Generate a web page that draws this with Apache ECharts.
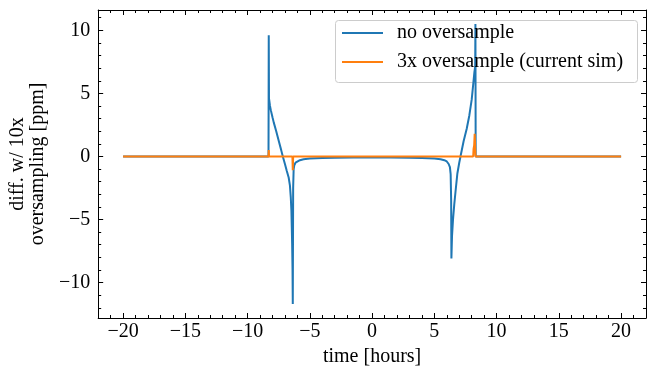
<!DOCTYPE html>
<html>
<head>
<meta charset="utf-8">
<script src="https://cdn.jsdelivr.net/npm/echarts@6/dist/echarts.min.js"></script>
<style>
  html, body { margin: 0; padding: 0; background: #fff; }
  #chart { width: 657px; height: 375px; }
</style>
</head>
<body>
<div id="chart"></div>
<script>
// axis ranges and ticks
const xRange = [-22, 22];
const yRange = [-12.81, 11.61];
const xTicks = [-20, -15, -10, -5, 0, 5, 10, 15, 20];
const yTicks = [-10, -5, 0, 5, 10];

// no oversample (blue)
const noOversampleTime = [-20, -8.32, -8.30, -8.28, -8.2, -8.13, -8.0, -7.9, -7.7, -7.5, -7.3, -7.17, -7.0, -6.85, -6.7, -6.6, -6.53, -6.48, -6.45, -6.42, -6.39, -6.37, -6.34, -6.3, -6.25, -6.15, -6.0, -5.8, -5.5, -5.0, -4.0, -3.0, -1.5, 0, 1.5, 3.0, 4.0, 5.0, 5.5, 5.8, 6.0, 6.15, 6.25, 6.31, 6.35, 6.37, 6.42, 6.5, 6.6, 6.7, 6.85, 7.0, 7.1, 7.35, 7.6, 7.81, 8.0, 8.13, 8.22, 8.28, 8.30, 8.32, 20];
const noOversampleDiff = [0, 0, 9.6, 4.6, 4.0, 3.65, 3.1, 2.7, 2.0, 1.25, 0.5, 0, -0.6, -1.15, -1.67, -2.3, -3.25, -4.3, -5.6, -7.0, -9.0, -11.7, -2.5, -1.0, -0.7, -0.5, -0.38, -0.3, -0.22, -0.17, -0.12, -0.1, -0.09, -0.08, -0.09, -0.1, -0.12, -0.17, -0.22, -0.3, -0.4, -0.6, -0.85, -1.4, -3.5, -8.1, -6.3, -5.0, -3.8, -2.8, -1.35, -0.5, 0, 1.2, 2.2, 3.25, 4.5, 5.8, 6.7, 7.1, 10.5, 0, 0];

// 3x oversample (orange)
const oversample3Time = [-20, -8.32, -8.30, -8.28, -6.40, -6.37, -6.34, 6.34, 6.37, 6.40, 8.12, 8.15, 8.2, 8.24, 8.29, 8.31, 20];
const oversample3Diff = [0, 0, 0.5, 0, 0, -1.1, 0, 0, -0.15, 0, 0, 0.6, 0.9, 1.8, 1.8, 0, 0];

const FONT = "'Liberation Serif', 'DejaVu Serif', serif";
const FS = 20;

const minorOf = (range, majors) => {
  const out = [];
  for (let v = Math.ceil(range[0]); v <= Math.floor(range[1]); v++) {
    if (!majors.includes(v)) out.push(v);
  }
  return out;
};
const xMinor = minorOf(xRange, xTicks);
const yMinor = minorOf(yRange, yTicks);

const fmt = v => (v < 0 ? '\u2212' + Math.abs(v) : String(v));

function axis(kind, position, ticks, len, withLabel, withLine) {
  const range = kind === 'x' ? xRange : yRange;
  return {
    type: 'value',
    position: position,
    min: range[0],
    max: range[1],
    splitLine: { show: false },
    axisLine: { show: withLine, onZero: false, lineStyle: { color: '#000', width: 1 } },
    axisTick: {
      show: true,
      inside: true,
      length: len,
      customValues: ticks,
      lineStyle: { color: '#000', width: 1 }
    },
    axisLabel: withLabel ? {
      show: true,
      customValues: ticks,
      formatter: fmt,
      color: '#000',
      fontFamily: FONT,
      fontSize: FS,
      margin: kind === 'x' ? 4 : 8
    } : { show: false }
  };
}

const xAxes = [
  Object.assign(axis('x', 'bottom', xTicks, 5, true, true), {
    name: 'time [hours]',
    nameLocation: 'middle',
    nameGap: 27,
    nameTextStyle: { color: '#000', fontFamily: FONT, fontSize: FS }
  }),
  axis('x', 'bottom', xMinor, 3, false, false),
  axis('x', 'top', xTicks, 5, false, true),
  axis('x', 'top', xMinor, 3, false, false)
];
const yAxes = [
  Object.assign(axis('y', 'left', yTicks, 5, true, true), {
    name: 'diff. w/ 10x\noversampling [ppm]',
    nameLocation: 'middle',
    nameRotate: 90,
    nameGap: 40,
    nameTextStyle: { color: '#000', fontFamily: FONT, fontSize: FS, lineHeight: 20 }
  }),
  axis('y', 'left', yMinor, 3, false, false),
  axis('y', 'right', yTicks, 5, false, true),
  axis('y', 'right', yMinor, 3, false, false)
];

const pairs = (xs, ys) => xs.map((x, i) => [x, ys[i]]);

const chart = echarts.init(document.getElementById('chart'), null, { renderer: 'canvas' });
chart.setOption({
  animation: false,
  backgroundColor: '#fff',
  grid: { left: 97, right: 11, top: 10, bottom: 57, containLabel: false },
  xAxis: xAxes,
  yAxis: yAxes,
  graphic: [{
    type: 'rect',
    z: 3,
    shape: { x: 335.5, y: 20.5, width: 302, height: 62, r: 3 },
    style: { fill: 'rgba(255,255,255,0.8)', stroke: '#cccccc', lineWidth: 1 }
  }],
  legend: {
    z: 5,
    orient: 'vertical',
    left: 342,
    top: 23,
    padding: 0,
    itemGap: 9,
    itemWidth: 41,
    itemHeight: 2,
    icon: 'rect',
    textStyle: { color: '#000', fontFamily: FONT, fontSize: FS, lineHeight: 20, padding: [0, 0, 0, 9] },
    data: ['no oversample', '3x oversample (current sim)']
  },
  series: [
    {
      name: 'no oversample',
      type: 'line',
      xAxisIndex: 0,
      yAxisIndex: 0,
      showSymbol: false,
      color: '#1f77b4',
      lineStyle: { width: 2, color: '#1f77b4' },
      data: pairs(noOversampleTime, noOversampleDiff)
    },
    {
      name: '3x oversample (current sim)',
      type: 'line',
      xAxisIndex: 0,
      yAxisIndex: 0,
      showSymbol: false,
      color: '#ff7f0e',
      lineStyle: { width: 2, color: '#ff7f0e' },
      data: pairs(oversample3Time, oversample3Diff)
    }
  ]
});
</script>
</body>
</html>
